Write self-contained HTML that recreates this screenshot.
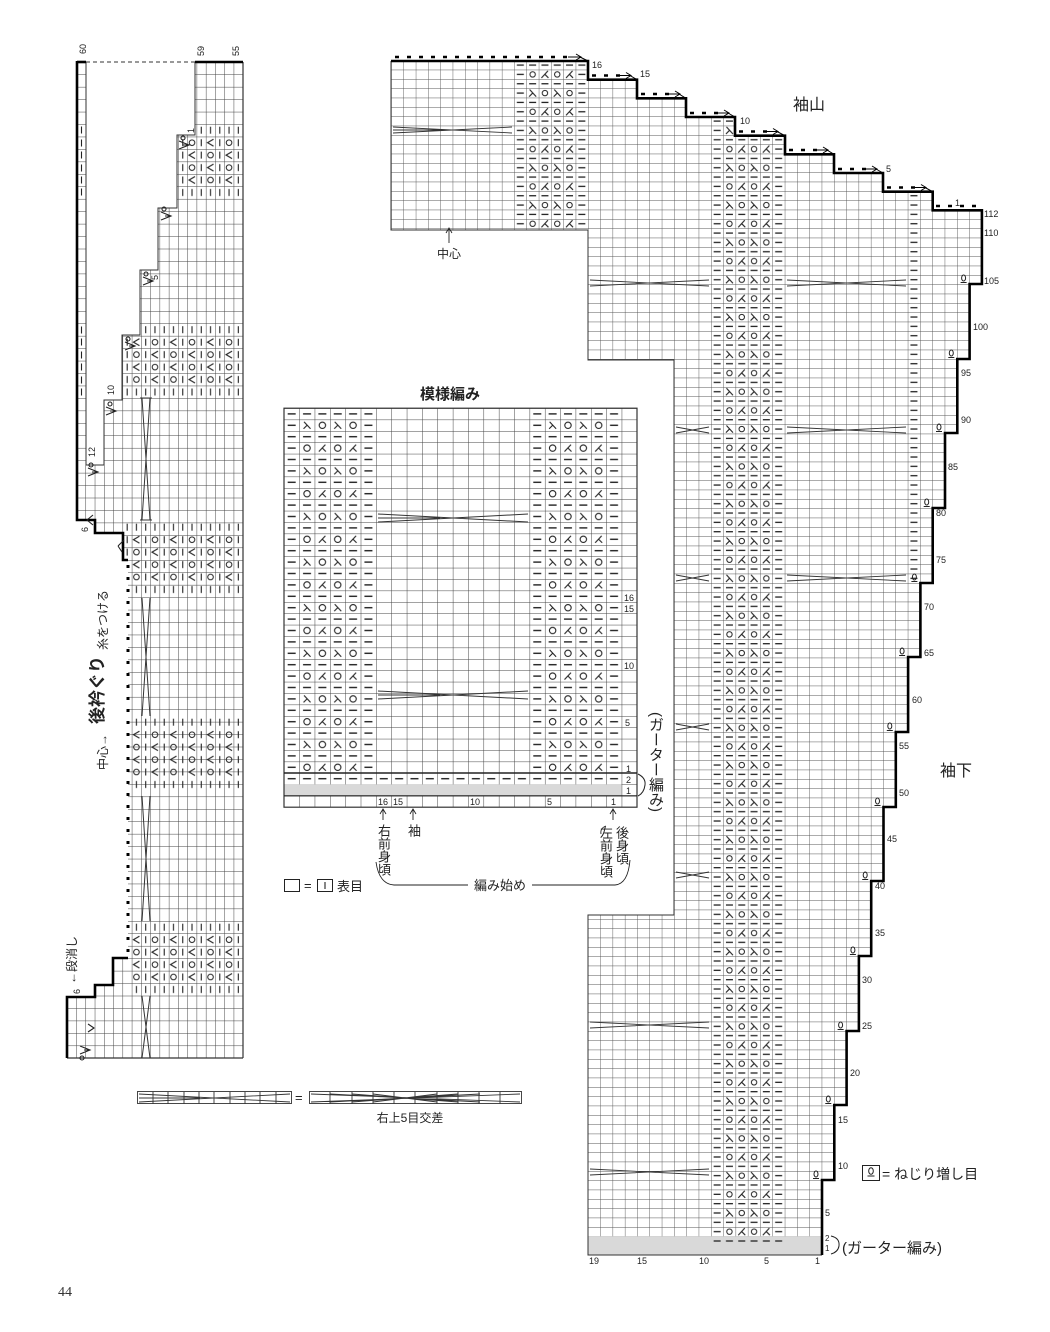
<!DOCTYPE html>
<html><head><meta charset="utf-8">
<style>
html,body{margin:0;padding:0;background:#fff;}
body{width:1050px;height:1332px;position:relative;overflow:hidden;font-family:"Liberation Sans","Noto Sans CJK JP",sans-serif;}
svg{position:absolute;left:0;top:0;}
.v{position:absolute;writing-mode:vertical-rl;font-size:13px;line-height:14px;color:#222;font-family:"Liberation Sans","Noto Sans CJK JP",sans-serif;}
</style></head><body>
<svg width="1050" height="1332" viewBox="0 0 1050 1332" xmlns="http://www.w3.org/2000/svg" font-family="Liberation Sans, Noto Sans CJK JP, sans-serif">
<defs>
 <path id="dash" d="M-4 0H4" stroke="#222" stroke-width="1.4" fill="none"/>
 <path id="dashs" d="M-3.5 0H3.5" stroke="#222" stroke-width="1.3" fill="none"/>
 <circle id="circ" r="3.2" stroke="#222" stroke-width="1.1" fill="none"/>
 <circle id="circs" r="2.7" stroke="#222" stroke-width="1" fill="none"/>
 <path id="lam" d="M-3 -3.5L3.5 3.5M0 0L-3.5 3.5" stroke="#222" stroke-width="1.1" fill="none"/>
 <path id="laml" d="M3 -3.5L-3.5 3.5M0 0L3.5 3.5" stroke="#222" stroke-width="1.1" fill="none"/>
 <path id="bar" d="M0 -3.5V3.5" stroke="#222" stroke-width="1.1" fill="none"/>
 <path id="lt" d="M3 -3.5L-3 0L3 3.5" stroke="#222" stroke-width="1.1" fill="none"/>
 <circle id="circl" r="2.8" stroke="#222" stroke-width="1" fill="none"/>

 <pattern id="gL" patternUnits="userSpaceOnUse" x="67" y="1058" width="9.26" height="12.45">
  <path d="M0 0H9.26M0 0V12.45" stroke="#444" stroke-width="1" fill="none"/>
 </pattern>
 <pattern id="gM" patternUnits="userSpaceOnUse" x="284" y="408.2" width="15.35" height="11.4">
  <path d="M0 0H15.35M0 0V11.4" stroke="#444" stroke-width="1" fill="none"/>
 </pattern>
 <pattern id="gS" patternUnits="userSpaceOnUse" x="588" y="1255" width="12.3" height="9.333">
  <path d="M0 0H12.3M0 0V9.333" stroke="#555" stroke-width="0.9" fill="none"/>
 </pattern>

 <pattern id="lM" patternUnits="userSpaceOnUse" x="0" y="0" width="92.1" height="45.6">
  <use href="#dash" x="7.68" y="5.7"/><use href="#dash" x="23.03" y="5.7"/><use href="#dash" x="38.38" y="5.7"/><use href="#dash" x="53.73" y="5.7"/><use href="#dash" x="69.08" y="5.7"/><use href="#dash" x="84.43" y="5.7"/>
  <use href="#dash" x="7.68" y="17.1"/><use href="#lam" x="23.03" y="17.1"/><use href="#circ" x="38.38" y="17.1"/><use href="#lam" x="53.73" y="17.1"/><use href="#circ" x="69.08" y="17.1"/><use href="#dash" x="84.43" y="17.1"/>
  <use href="#dash" x="7.68" y="28.5"/><use href="#dash" x="23.03" y="28.5"/><use href="#dash" x="38.38" y="28.5"/><use href="#dash" x="53.73" y="28.5"/><use href="#dash" x="69.08" y="28.5"/><use href="#dash" x="84.43" y="28.5"/>
  <use href="#dash" x="7.68" y="39.9"/><use href="#circ" x="23.03" y="39.9"/><use href="#laml" x="38.38" y="39.9"/><use href="#circ" x="53.73" y="39.9"/><use href="#laml" x="69.08" y="39.9"/><use href="#dash" x="84.43" y="39.9"/>
 </pattern>
 <pattern id="dM" patternUnits="userSpaceOnUse" x="284" y="773" width="15.35" height="11.4">
  <use href="#dash" x="7.68" y="5.7"/>
 </pattern>

 <pattern id="lS" patternUnits="userSpaceOnUse" x="711" y="1236.32" width="73.8" height="37.33">
  <use href="#dashs" x="6.15" y="4.67"/><use href="#dashs" x="18.45" y="4.67"/><use href="#dashs" x="30.75" y="4.67"/><use href="#dashs" x="43.05" y="4.67"/><use href="#dashs" x="55.35" y="4.67"/><use href="#dashs" x="67.65" y="4.67"/>
  <use href="#dashs" x="6.15" y="14"/><use href="#lam" x="18.45" y="14"/><use href="#circs" x="30.75" y="14"/><use href="#lam" x="43.05" y="14"/><use href="#circs" x="55.35" y="14"/><use href="#dashs" x="67.65" y="14"/>
  <use href="#dashs" x="6.15" y="23.33"/><use href="#dashs" x="18.45" y="23.33"/><use href="#dashs" x="30.75" y="23.33"/><use href="#dashs" x="43.05" y="23.33"/><use href="#dashs" x="55.35" y="23.33"/><use href="#dashs" x="67.65" y="23.33"/>
  <use href="#dashs" x="6.15" y="32.66"/><use href="#circs" x="18.45" y="32.66"/><use href="#laml" x="30.75" y="32.66"/><use href="#circs" x="43.05" y="32.66"/><use href="#laml" x="55.35" y="32.66"/><use href="#dashs" x="67.65" y="32.66"/>
 </pattern>
 <pattern id="dS" patternUnits="userSpaceOnUse" x="588" y="1255" width="12.3" height="9.333">
  <use href="#dashs" x="6.15" y="4.67"/>
 </pattern>

 <pattern id="bL" patternUnits="userSpaceOnUse" x="67" y="0" width="37.04" height="74.7">
  <use href="#bar" x="4.63" y="6.2"/><use href="#bar" x="13.89" y="6.2"/><use href="#bar" x="23.15" y="6.2"/><use href="#bar" x="32.41" y="6.2"/>
  <use href="#bar" x="4.63" y="18.7"/><use href="#circl" x="13.89" y="18.7"/><use href="#bar" x="23.15" y="18.7"/><use href="#lt" x="32.41" y="18.7"/>
  <use href="#bar" x="4.63" y="31.1"/><use href="#lt" x="13.89" y="31.1"/><use href="#bar" x="23.15" y="31.1"/><use href="#circl" x="32.41" y="31.1"/>
  <use href="#bar" x="4.63" y="43.6"/><use href="#circl" x="13.89" y="43.6"/><use href="#bar" x="23.15" y="43.6"/><use href="#lt" x="32.41" y="43.6"/>
  <use href="#bar" x="4.63" y="56"/><use href="#lt" x="13.89" y="56"/><use href="#bar" x="23.15" y="56"/><use href="#circl" x="32.41" y="56"/>
  <use href="#bar" x="4.63" y="68.5"/><use href="#bar" x="13.89" y="68.5"/><use href="#bar" x="23.15" y="68.5"/><use href="#bar" x="32.41" y="68.5"/>
 </pattern>

 <clipPath id="cS"><polygon points="391,61 588,61 588,79.7 637,79.7 637,98.3 686,98.3 686,117 735,117 735,135.7 785,135.7 785,154.3 834,154.3 834,173 883,173 883,191.7 932.7,191.7 932.7,210.3 981.9,210.3 981.9,284 969.6,284 969.6,359 957.3,359 957.3,433 945,433 945,508 932.7,508 932.7,583 920.4,583 920.4,657 908.1,657 908.1,732 895.8,732 895.8,807 883.5,807 883.5,881 871.2,881 871.2,956 858.9,956 858.9,1031 846.6,1031 846.6,1105 834.3,1105 834.3,1180 822,1180 822,1255 588,1255 588,915 674,915 674,360 588,360 588,230 391,230"/></clipPath>
 <clipPath id="cL"><polygon points="77,62 86,62 86,465 104,465 104,400 122,400 122,335 140,335 140,270 158,270 158,208 177,208 177,135 195,135 195,62 243,62 243,1058 67,1058 67,997 95,997 95,985 113,985 113,958 128,958 128,560 123,560 123,533 95,533 95,520 77,520"/></clipPath>
</defs>

<!-- ============ LEFT CHART ============ -->
<g clip-path="url(#cL)">
 <rect x="60" y="55" width="190" height="1010" fill="url(#gL)"/>
 <g transform="translate(0,124)"><rect x="177" y="0" width="66" height="74.7" fill="url(#bL)"/></g>
 <g transform="translate(0,323.5)"><rect x="122.6" y="0" width="121" height="74.7" fill="url(#bL)"/></g>
 <g transform="translate(0,521)"><rect x="122.6" y="0" width="121" height="74.7" fill="url(#bL)"/></g>
 <g transform="translate(0,716)"><rect x="131.8" y="0" width="112" height="74.7" fill="url(#bL)"/></g>
 <g transform="translate(0,921)"><rect x="131.8" y="0" width="112" height="74.7" fill="url(#bL)"/></g>
 <g stroke="#333" stroke-width="1" fill="none">
  <path d="M142 398L150 520M150 398L142 520M140 398H152M140 520H152"/>
  <path d="M142 598L150 716M150 598L142 716"/>
  <path d="M142 796L150 921M150 796L142 921"/>
  <path d="M142 996L150 1058M150 996L142 1058"/>
 </g>
 <g>
  <use href="#bar" x="81.5" y="130"/><use href="#bar" x="81.5" y="143"/><use href="#bar" x="81.5" y="155"/><use href="#bar" x="81.5" y="168"/><use href="#bar" x="81.5" y="180"/><use href="#bar" x="81.5" y="192"/>
  <use href="#bar" x="81.5" y="330"/><use href="#bar" x="81.5" y="342"/><use href="#bar" x="81.5" y="355"/><use href="#bar" x="81.5" y="367"/><use href="#bar" x="81.5" y="380"/><use href="#bar" x="81.5" y="392"/>
 </g>
</g>
<line x1="243" y1="62" x2="243" y2="1058" stroke="#333" stroke-width="1.2"/>
<line x1="67" y1="1058" x2="243" y2="1058" stroke="#333" stroke-width="1.2"/>
<path d="M86 62V465H104V400H122V335H140V270H158V208H177V135H195V62" fill="none" stroke="#333" stroke-width="1"/>
<line x1="86" y1="62" x2="195" y2="62" stroke="#333" stroke-width="1" stroke-dasharray="4 3"/>
<path d="M195 62H243" stroke="#000" stroke-width="2.6"/>
<path d="M77 61V520H95V533H123V560H128" fill="none" stroke="#000" stroke-width="2.6"/>
<path d="M128 958H113V985H95V997H67V1058" fill="none" stroke="#000" stroke-width="2.6"/>
<line x1="128" y1="565" x2="128" y2="955" stroke="#000" stroke-width="3" stroke-dasharray="3 9"/>
<path d="M86 62H77" stroke="#000" stroke-width="2.6"/>
<g stroke="#222" stroke-width="1.1" fill="none">
 <path d="M179 141L189 145L179 149M189 145H183"/><circle cx="183" cy="138" r="2"/>
 <path d="M161 212L171 216L161 220M171 216H165"/><circle cx="164" cy="209" r="2"/>
 <path d="M143 277L153 281L143 285M153 281H147"/><circle cx="146" cy="274" r="2"/>
 <path d="M125 342L135 346L125 350M135 346H129"/><circle cx="128" cy="339" r="2"/>
 <path d="M106 407L116 411L106 415M116 411H110"/><circle cx="110" cy="404" r="2"/>
 <path d="M88 468L98 472L88 476M98 472H92"/><circle cx="91" cy="465" r="2"/>
 <path d="M80 1046L90 1050L80 1054M90 1050H84"/><circle cx="82" cy="1058" r="2"/>
 <path d="M88 1024L94 1028L88 1032"/><path d="M93 515L87 520L93 525"/>
 <path d="M118 546L124 540M118 546L122 552"/>
</g>
<g font-size="9" fill="#222">
 <text transform="translate(86,54) rotate(-90)">60</text>
 <text transform="translate(204,56) rotate(-90)">59</text>
 <text transform="translate(239,56) rotate(-90)">55</text>
 <text transform="translate(194,133) rotate(-90)">1</text>
 <text transform="translate(158,280) rotate(-90)">5</text>
 <text transform="translate(114,395) rotate(-90)">10</text>
 <text transform="translate(95,457) rotate(-90)">12</text>
 <text transform="translate(88,532) rotate(-90)">6</text>
 <text transform="translate(80,994) rotate(-90)">6</text>
</g>
<g fill="#222">
 <text transform="translate(103,690) rotate(-90)" font-size="17" font-weight="bold" text-anchor="middle">後衿ぐり</text>
 <text transform="translate(107,620) rotate(-90)" font-size="12" text-anchor="middle">糸をつける</text>
 <text transform="translate(107,752) rotate(-90)" font-size="12" text-anchor="middle">中心→</text>
 <text transform="translate(76,960) rotate(-90)" font-size="12" text-anchor="middle">←段消し</text>
</g>

<!-- ============ SLEEVE ============ -->
<g clip-path="url(#cS)">
 <rect x="385" y="55" width="605" height="1205" fill="url(#gS)"/>
 <rect x="588" y="1236.3" width="234" height="18.7" fill="#d9d9d9"/>
 <rect x="711" y="61" width="73.8" height="1175.3" fill="url(#lS)"/>
 <g transform="translate(-196.8,0)"><rect x="711" y="61" width="73.8" height="169" fill="url(#lS)"/></g>
 <rect x="907.8" y="191.7" width="12.3" height="391.3" fill="url(#dS)"/>
 <rect x="711" y="1236.3" width="73.8" height="9.33" fill="url(#dS)"/>
 <g stroke="#333" stroke-width="0.9" fill="none">
  <path d="M393 127L512 133M393 133L512 127M393 130H460"/>
  <path d="M590 280L709 286M590 286L709 280"/><path d="M787 280L906 286M787 286L906 280"/>
  <path d="M676 427L709 433M676 433L709 427"/><path d="M787 427L906 433M787 433L906 427"/>
  <path d="M676 575L709 581M676 581L709 575"/><path d="M787 575L906 581M787 581L906 575"/>
  <path d="M676 724L709 730M676 730L709 724"/>
  <path d="M676 872L709 878M676 878L709 872"/>
  <path d="M590 1022L709 1028M590 1028L709 1022"/>
  <path d="M590 1169L709 1175M590 1175L709 1169"/>
 </g>
</g>
<path d="M588 230H391V61M588 230V360H674V915H588V1255H822" fill="none" stroke="#333" stroke-width="1"/>
<path d="M391 61H588V79.7H637V98.3H686V117H735V135.7H785V154.3H834V173H883V191.7H932.7V210.3H981.9V284H969.6V359H957.3V433H945V508H932.7V583H920.4V657H908.1V732H895.8V807H883.5V881H871.2V956H858.9V1031H846.6V1105H834.3V1180H822V1255" fill="none" stroke="#000" stroke-width="2.6"/>
<g stroke="#000" stroke-width="2.6" stroke-dasharray="4 8">
 <line x1="395" y1="57" x2="570" y2="57"/>
 <line x1="592" y1="75.5" x2="620" y2="75.5"/>
 <line x1="641" y1="94" x2="669" y2="94"/>
 <line x1="690" y1="113" x2="718" y2="113"/>
 <line x1="739" y1="131.5" x2="767" y2="131.5"/>
 <line x1="789" y1="150" x2="817" y2="150"/>
 <line x1="838" y1="169" x2="866" y2="169"/>
 <line x1="887" y1="187.5" x2="915" y2="187.5"/>
 <line x1="936" y1="206" x2="980" y2="206"/>
</g>
<g stroke="#000" stroke-width="1" fill="none">
 <path d="M568 57H580M576 54L581 57L576 60M580 57L588 61"/>
 <path d="M618 75.5H630M626 72.5L631 75.5L626 78.5M630 75.5L637 79.7"/>
 <path d="M667 94H679M675 91L680 94L675 97M679 94L686 98.3"/>
 <path d="M716 113H728M724 110L729 113L724 116M728 113L735 117"/>
 <path d="M765 131.5H777M773 128.5L778 131.5L773 134.5M777 131.5L785 135.7"/>
 <path d="M815 150H827M823 147L828 150L823 153M827 150L834 154.3"/>
 <path d="M864 169H876M872 166L877 169L872 172M876 169L883 173"/>
 <path d="M913 187.5H925M921 184.5L926 187.5L921 190.5M925 187.5L932.7 191.7"/>
</g>
<g stroke="#222" stroke-width="1" fill="none">
 <ellipse cx="963.6" cy="278" rx="2" ry="3"/><path d="M960.6 282.5H966.6"/>
 <ellipse cx="951.3" cy="353" rx="2" ry="3"/><path d="M948.3 357.5H954.3"/>
 <ellipse cx="939" cy="427" rx="2" ry="3"/><path d="M936 431.5H942"/>
 <ellipse cx="926.7" cy="502" rx="2" ry="3"/><path d="M923.7 506.5H929.7"/>
 <ellipse cx="914.4" cy="577" rx="2" ry="3"/><path d="M911.4 581.5H917.4"/>
 <ellipse cx="902.1" cy="651" rx="2" ry="3"/><path d="M899.1 655.5H905.1"/>
 <ellipse cx="889.8" cy="726" rx="2" ry="3"/><path d="M886.8 730.5H892.8"/>
 <ellipse cx="877.5" cy="801" rx="2" ry="3"/><path d="M874.5 805.5H880.5"/>
 <ellipse cx="865.2" cy="875" rx="2" ry="3"/><path d="M862.2 879.5H868.2"/>
 <ellipse cx="852.9" cy="950" rx="2" ry="3"/><path d="M849.9 954.5H855.9"/>
 <ellipse cx="840.6" cy="1025" rx="2" ry="3"/><path d="M837.6 1029.5H843.6"/>
 <ellipse cx="828.3" cy="1099" rx="2" ry="3"/><path d="M825.3 1103.5H831.3"/>
 <ellipse cx="816" cy="1174" rx="2" ry="3"/><path d="M813 1178.5H819"/>
</g>
<g font-size="9" fill="#222">
 <text x="592" y="68">16</text><text x="640" y="77">15</text><text x="740" y="124">10</text><text x="886" y="172">5</text><text x="955" y="206">1</text>
 <text x="984" y="217">112</text><text x="984" y="236">110</text><text x="984" y="284">105</text>
 <text x="973" y="330">100</text><text x="961" y="376">95</text><text x="961" y="423">90</text>
 <text x="948" y="470">85</text><text x="936" y="516">80</text><text x="936" y="563">75</text>
 <text x="924" y="610">70</text><text x="924" y="656">65</text><text x="912" y="703">60</text>
 <text x="899" y="749">55</text><text x="899" y="796">50</text><text x="887" y="842">45</text>
 <text x="875" y="889">40</text><text x="875" y="936">35</text><text x="862" y="983">30</text>
 <text x="862" y="1029">25</text><text x="850" y="1076">20</text><text x="838" y="1123">15</text>
 <text x="838" y="1169">10</text><text x="825" y="1216">5</text>
 <text x="825" y="1241" font-size="8">2</text><text x="825" y="1251" font-size="8">1</text>
 <text x="589" y="1264">19</text><text x="637" y="1264">15</text><text x="699" y="1264">10</text><text x="764" y="1264">5</text><text x="815" y="1264">1</text>
</g>
<path d="M831 1236Q840 1238 839 1246Q838 1252 831 1254" fill="none" stroke="#222" stroke-width="1"/>
<text x="842" y="1253" font-size="15" fill="#222">(ガーター編み)</text>
<text x="793" y="110" font-size="16" fill="#222">袖山</text>
<text x="940" y="776" font-size="16" fill="#222">袖下</text>
<text x="449" y="258" font-size="12" fill="#222" text-anchor="middle">中心</text>
<path d="M449 243V229M446 233L449 228L452 233" stroke="#222" stroke-width="0.9" fill="none"/>
<rect x="862.5" y="1165.5" width="17" height="15" fill="none" stroke="#222" stroke-width="1"/>
<ellipse cx="871" cy="1171" rx="2.3" ry="3.3" fill="none" stroke="#222" stroke-width="1"/><path d="M867.5 1176H874.5" stroke="#222"/>
<text x="882" y="1179" font-size="14" fill="#222">= ねじり増し目</text>

<!-- ============ MIDDLE CHART ============ -->
<text x="450" y="399" font-size="15" font-weight="bold" fill="#222" text-anchor="middle">模様編み</text>
<rect x="284" y="408.2" width="353" height="399" fill="url(#gM)"/>
<rect x="284.5" y="784.4" width="337" height="11.4" fill="#d9d9d9"/>
<g transform="translate(284,408.2)"><rect x="0" y="0" width="92.1" height="364.8" fill="url(#lM)"/></g>
<g transform="translate(529.6,408.2)"><rect x="0" y="0" width="92.1" height="364.8" fill="url(#lM)"/></g>
<rect x="284" y="773" width="337.7" height="11.4" fill="url(#dM)"/>
<g stroke="#333" stroke-width="1" fill="none">
 <path d="M378 514L528 522M378 522L528 514M378 518H440"/>
 <path d="M378 691L528 699M378 699L528 691M378 695H440"/>
</g>
<rect x="284" y="408.2" width="353" height="399" fill="none" stroke="#333" stroke-width="1.2"/>
<line x1="284" y1="773" x2="637" y2="773" stroke="#222" stroke-width="1.6"/>
<line x1="284" y1="795.8" x2="637" y2="795.8" stroke="#222" stroke-width="1.2"/>
<g font-size="9" fill="#222">
 <text x="624" y="601">16</text><text x="624" y="612">15</text><text x="624" y="669">10</text><text x="625" y="726">5</text><text x="626" y="772">1</text>
 <text x="626" y="783">2</text><text x="626" y="794">1</text>
 <text x="378" y="805">16</text><text x="393" y="805">15</text><text x="470" y="805">10</text><text x="547" y="805">5</text><text x="611" y="805">1</text>
</g>
<path d="M638 774Q646 778 645 785Q644 793 638 796" fill="none" stroke="#222" stroke-width="1"/>
<g stroke="#222" stroke-width="0.9" fill="none">
 <path d="M383 820V810M380 814L383 809L386 814"/>
 <path d="M413 820V810M410 814L413 809L416 814"/>
 <path d="M613 820V810M610 814L613 809L616 814"/>
 <path d="M606 826Q600 828 601 834"/>
 <path d="M376 862Q379 884 394 885H468M532 885H615Q628 884 630 860"/>
</g>
<text x="500" y="890" font-size="13" fill="#222" text-anchor="middle">編み始め</text>
<rect x="284.5" y="879.5" width="15" height="12" fill="none" stroke="#222"/>
<text x="304" y="890" font-size="13" fill="#222">=</text>
<rect x="317.5" y="879.5" width="15" height="12" fill="none" stroke="#222"/>
<path d="M325 882V889" stroke="#222" stroke-width="1.1"/>
<text x="337" y="891" font-size="13" fill="#222">表目</text>

<g stroke="#333" stroke-width="0.9" fill="none">
 <rect x="137.5" y="1091.5" width="154" height="12"/>
 <path d="M153 1092V1104M168 1092V1104M184 1092V1104M199 1092V1104M214 1092V1104M230 1092V1104M245 1092V1104M260 1092V1104M276 1092V1104"/>
 <path d="M139 1094L290 1102M139 1102L290 1094M139 1098H200"/>
 <rect x="309.5" y="1091.5" width="212" height="12"/>
 <path d="M330 1092V1104M352 1092V1104M373 1092V1104M394 1092V1104M415 1092V1104M437 1092V1104M458 1092V1104M479 1092V1104M500 1092V1104"/>
 <path d="M311 1094L520 1102M311 1102L520 1094M330 1094L480 1102M330 1102L480 1094M352 1094L458 1102M352 1102L458 1094M373 1094L437 1102M373 1102L437 1094"/>
</g>
<text x="295" y="1102" font-size="13" fill="#222">=</text>
<text x="410" y="1122" font-size="12" fill="#222" text-anchor="middle">右上5目交差</text>

<text x="58" y="1296" font-size="14" fill="#333" font-family="Liberation Serif, serif">44</text>
</svg>
<div class="v" style="left:376px;top:824px;">右前身頃</div>
<div class="v" style="left:406px;top:824px;">袖</div>
<div class="v" style="left:598px;top:826px;">左前身頃</div>
<div class="v" style="left:614px;top:826px;">後身頃</div>
<div class="v" style="left:647px;top:712px;font-size:15px;line-height:16px;">(ガーター編み)</div>
</body></html>
